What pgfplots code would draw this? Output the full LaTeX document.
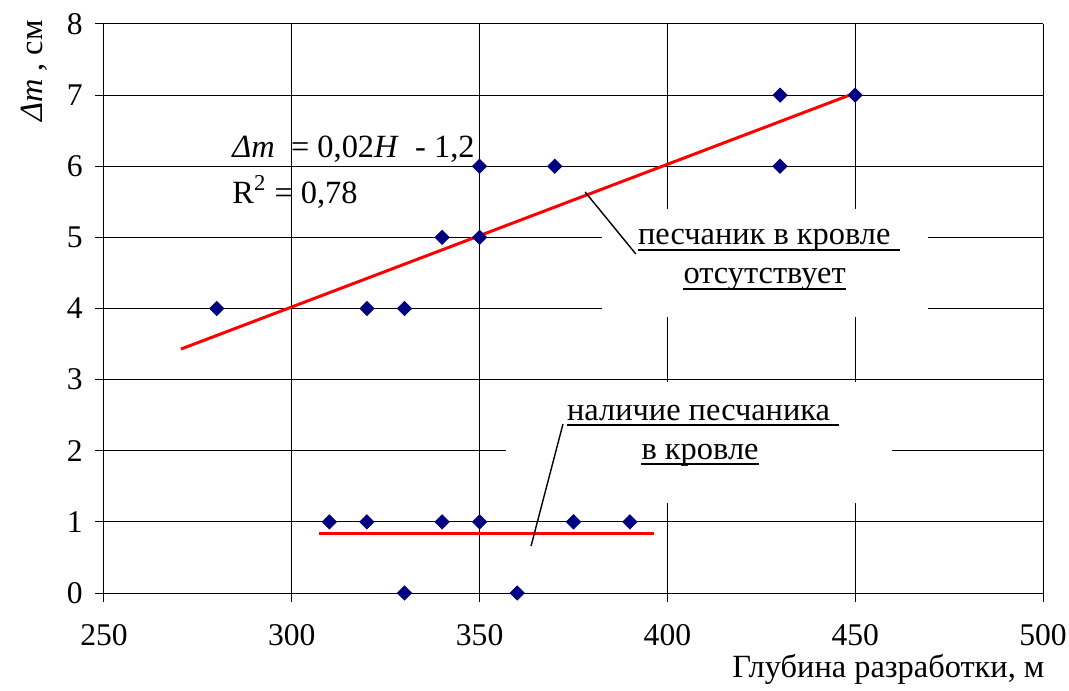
\documentclass[border=0pt]{standalone}
\usepackage{fontspec}
\setmainfont{Liberation Serif}
\usepackage{pgfplots}
\pgfplotsset{compat=1.18}
\definecolor{navy}{RGB}{0,0,128}

\begin{document}
\begin{tikzpicture}
\useasboundingbox (-52pt,-48.5pt) rectangle (482.5pt,296.5pt);
\begin{axis}[
  at={(0,0)}, anchor=south west, scale only axis,
  width=469.5pt, height=284.5pt,
  xmin=250, xmax=500, ymin=0, ymax=8,
  xtick={250,300,...,500}, ytick={0,1,...,8},
  axis lines*=left,
  axis line style={black, line width=0.5pt},
  grid=major, major grid style={black, line width=0.5pt},
  tick align=center, major tick length=9pt,
  tick style={black, line width=0.5pt},
  /pgf/number format/assume math mode=true,
  ticklabel style={font=\fontsize{15.8}{18}\selectfont},
  xticklabel style={anchor=base, yshift=-21.5pt, inner sep=0pt},
  yticklabel style={anchor=east, xshift=-6pt, inner sep=0pt},
  clip=false,
]
% white boxes behind the annotations
\fill[white] (axis cs:382.6,3.88) rectangle (axis cs:469.4,5.40);
\fill[white] (axis cs:357.0,1.27) rectangle (axis cs:459.8,2.97);

% trend lines
\addplot[red, line width=1.5pt] coordinates {(270.5,3.43) (450,7.03)};
\addplot[red, line width=1.5pt] coordinates {(307.2,0.83) (396.4,0.83)};

% no sandstone in the roof
\addplot[only marks, mark=square*, mark size=2.5pt,
  mark options={rotate=45, draw=navy, fill=navy}] coordinates {
  (280,4) (320,4) (330,4) (340,5) (350,5) (350,6) (370,6)
  (430,7) (430,6) (450,7)
};
% sandstone present
\addplot[only marks, mark=square*, mark size=2.5pt,
  mark options={rotate=45, draw=navy, fill=navy}] coordinates {
  (310,1) (320,1) (330,0) (340,1) (350,1) (360,0) (375,1) (390,1)
};

% leader lines
\draw[black, line width=0.7pt] (axis cs:378.1,5.638) -- (axis cs:391.6,4.766);
\draw[black, line width=0.7pt] (axis cs:372.2,2.376) -- (axis cs:363.7,0.661);

% annotations
\begin{scope}[every node/.style={inner sep=0pt, font=\fontsize{16.2}{19}\selectfont}]
\node[anchor=base] (a1) at (axis cs:425.8,4.893) {песчаник в кровле};
\node[anchor=base] (a2) at (axis cs:425.9,4.345) {отсутствует};
\node[anchor=base] (b1) at (axis cs:408.3,2.432) {наличие песчаника};
\node[anchor=base] (b2) at (axis cs:408.7,1.884) {в кровле};
\node[anchor=base west] at (axis cs:284.1,6.13) {\textit{Δm}\ \ = 0,02\textit{H}\ \ - 1,2};
\node[anchor=base west] at (axis cs:284.1,5.483) {R\textsuperscript{2} = 0,78};
\node[anchor=base, rotate=90] at (axis cs:233.5,7.34) {\textit{Δm} , см};
\node[anchor=base east] at (axis cs:500.5,-1.19) {Глубина разработки, м};
\end{scope}
\draw[line width=1pt] ([yshift=-2.3pt]a1.base west) -- ([yshift=-2.3pt,xshift=4.5pt]a1.base east);
\draw[line width=1pt] ([yshift=-2.3pt]a2.base west) -- ([yshift=-2.3pt]a2.base east);
\draw[line width=1pt] ([yshift=-2.3pt]b1.base west) -- ([yshift=-2.3pt,xshift=4.5pt]b1.base east);
\draw[line width=1pt] ([yshift=-2.3pt]b2.base west) -- ([yshift=-2.3pt]b2.base east);
\end{axis}
\end{tikzpicture}
\end{document}
